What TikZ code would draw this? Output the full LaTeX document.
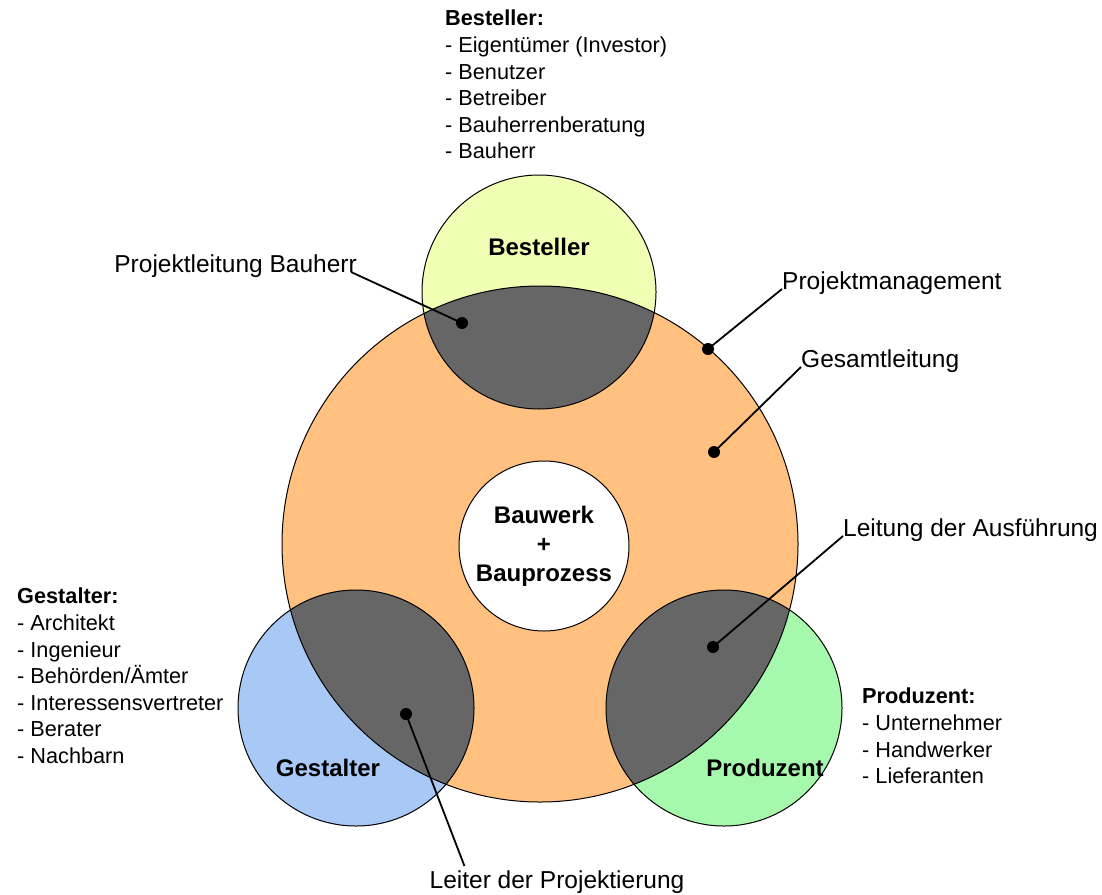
\documentclass[tikz,border=0pt]{standalone}
\usepackage{fontspec}
\setmainfont{Liberation Sans}
\usepackage{tikz}
\usetikzlibrary{positioning}

\definecolor{orangefill}{RGB}{255,192,128}
\definecolor{bestfill}{RGB}{240,255,180}
\definecolor{gestfill}{RGB}{168,200,245}
\definecolor{prodfill}{RGB}{166,248,172}
\definecolor{overlap}{RGB}{102,102,102}

\begin{document}
\begin{tikzpicture}[x=1pt,y=-1pt,
    dot/.style={circle, fill=black, inner sep=0pt, minimum size=12pt},
    lbl/.style={inner sep=0pt, font=\fontsize{24.5}{29}\selectfont},
    lst/.style={inner sep=0pt, anchor=north west, align=left, font=\fontsize{21.7}{26.6}\selectfont},
    rolle/.style={inner sep=0pt, align=center, font=\fontsize{24}{29}\selectfont\bfseries},
    conn/.style={line width=1.8pt}]

    \useasboundingbox (0,0) rectangle (1102,894);

    % Kreise
    \fill[orangefill] (540,544) circle (258pt);
    \fill[bestfill] (539,292) circle (117pt);
    \fill[gestfill] (356,708) circle (118pt);
    \fill[prodfill] (724,708) circle (118pt);
    % Schnittflaechen
    \begin{scope}
        \clip (540,544) circle (258pt);
        \fill[overlap] (539,292) circle (117pt);
        \fill[overlap] (356,708) circle (118pt);
        \fill[overlap] (724,708) circle (118pt);
    \end{scope}
    \draw[line width=1pt] (540,544) circle (258pt);
    \draw[line width=1pt] (539,292) circle (117pt);
    \draw[line width=1pt] (356,708) circle (118pt);
    \draw[line width=1pt] (724,708) circle (118pt);
    \draw[line width=1pt, fill=white] (544,546) circle (85pt);

    % Beschriftung der Kreise
    \node[rolle] (bau) at (544,546) {Bauwerk\\+\\Bauprozess};
    \node[rolle, anchor=base] (best) at (539,255) {Besteller};
    \node[rolle, anchor=base] (gest) at (328,776) {Gestalter};
    \node[rolle, anchor=base] (prod) at (765,776) {Produzent};

    % Listen
    \node[lst] (lbest) at (445,10) {\textbf{Besteller:}\\- Eigentümer (Investor)\\- Benutzer\\- Betreiber\\- Bauherrenberatung\\- Bauherr};
    \node[lst] (lgest) at (17,588) {\textbf{Gestalter:}\\- Architekt\\- Ingenieur\\- Behörden/Ämter\\- Interessensvertreter\\- Berater\\- Nachbarn};
    \node[lst] (lprod) at (862,688) {\textbf{Produzent:}\\- Unternehmer\\- Handwerker\\- Lieferanten};

    % Punkte
    \node[dot] (d1) at (462,323) {};
    \node[dot] (d2) at (708,349) {};
    \node[dot] (d3) at (714,452) {};
    \node[dot] (d4) at (713,647) {};
    \node[dot] (d5) at (406,714) {};

    % Funktionen
    \node[lbl, anchor=base east] (pl) at (357,272) {Projektleitung Bauherr};
    \node[lbl, anchor=base west] (pm) at (782,289) {Projektmanagement};
    \node[lbl, anchor=base west] (gl) at (801,367) {Gesamtleitung};
    \node[lbl, anchor=base west] (la) at (843,536) {Leitung der Ausführung};
    \node[lbl, anchor=base] (lp) at (557,888) {Leiter der Projektierung};

    \draw[conn] (d1.center) -- ([xshift=-6pt]pl.base east);
    \draw[conn] (d2.center) -- (pm.base west);
    \draw[conn] (d3.center) -- (gl.base west);
    \draw[conn] (d4.center) -- (la.base west);
    \draw[conn] (d5.center) -- ([xshift=35pt,yshift=4pt]lp.north west);
\end{tikzpicture}
\end{document}
